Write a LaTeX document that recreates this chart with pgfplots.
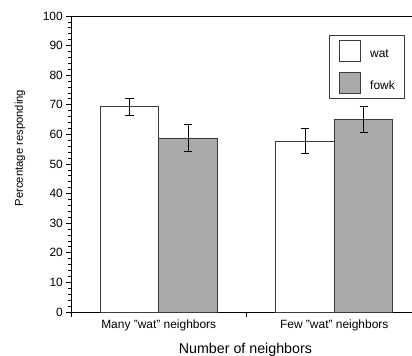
\documentclass[border=0pt]{standalone}
\usepackage{pgfplots}
\pgfplotsset{compat=1.18}
\usepackage{fontspec}
\setmainfont{Liberation Sans}
\definecolor{barfill}{RGB}{170,170,170}
\definecolor{edge}{RGB}{60,60,60}
\begin{document}
\begin{tikzpicture}
\begin{axis}[
  scale only axis,
  width=351bp, height=296bp,
  xmin=0.5, xmax=2.5, ymin=0, ymax=100,
  axis lines*=left,
  axis line style={black, line width=0.8pt},
  ybar=0pt, bar width=58.5bp,
  ytick={0,10,...,100},
  minor y tick num=4,
  tick align=outside,
  major tick length=5bp, minor tick length=3bp,
  tick style={black, line width=0.8pt},
  xtick={0.5,1.5,2.5}, xticklabels={},
  extra x ticks={1,2},
  extra x tick labels={Many "wat" neighbors, Few "wat" neighbors},
  extra x tick style={major tick length=0pt,
    xticklabel style={font=\fontsize{12}{14}\selectfont, anchor=base, yshift=-16.7bp}},
  /pgf/number format/assume math mode=true,
  yticklabel style={font=\fontsize{12}{14}\selectfont, inner sep=0pt, xshift=-3bp},
  ylabel={Percentage responding},
  ylabel style={font=\fontsize{11.3}{13}\selectfont, at={(rel axis cs:0,0.554)}, anchor=center, yshift=51bp},
  xlabel={Number of neighbors},
  xlabel style={font=\fontsize{14.3}{16}\selectfont, at={(rel axis cs:0.497,0)}, anchor=base, yshift=-41bp},
  legend style={at={(rel axis cs:0.735,0.937)}, anchor=north west,
    draw=edge, line width=0.8pt, inner xsep=10bp, inner ysep=5bp,
    row sep=10bp, column sep=9bp, nodes={inner sep=0pt},
    font=\fontsize{12}{14}\selectfont},
  legend cell align=left,
  legend image code/.code={\draw[#1, line width=0.8pt] (0bp,-7bp) rectangle (21bp,14bp);},
  error bars/y dir=both,
  error bars/y explicit,
  error bars/error bar style={black, line width=0.8pt},
  error bars/error mark options={rotate=90, mark size=4bp, black, line width=0.8pt},
]
\addplot[draw=edge, fill=white, line width=0.8pt] coordinates {
  (1,69.3) +- (0,3.0)
  (2,57.8) +- (0,4.3)
};
\addplot[draw=edge, fill=barfill, line width=0.8pt] coordinates {
  (1,58.8) +- (0,4.7)
  (2,65.1) +- (0,4.3)
};
\legend{wat, fowk}
\draw[black, line width=0.8pt] (rel axis cs:0,1) -- (rel axis cs:1,1);
\end{axis}
\pgfresetboundingbox
\path[use as bounding box] ([xshift=-71bp,yshift=-44bp]current axis.south west) rectangle ++(412bp,356bp);
\end{tikzpicture}
\end{document}
